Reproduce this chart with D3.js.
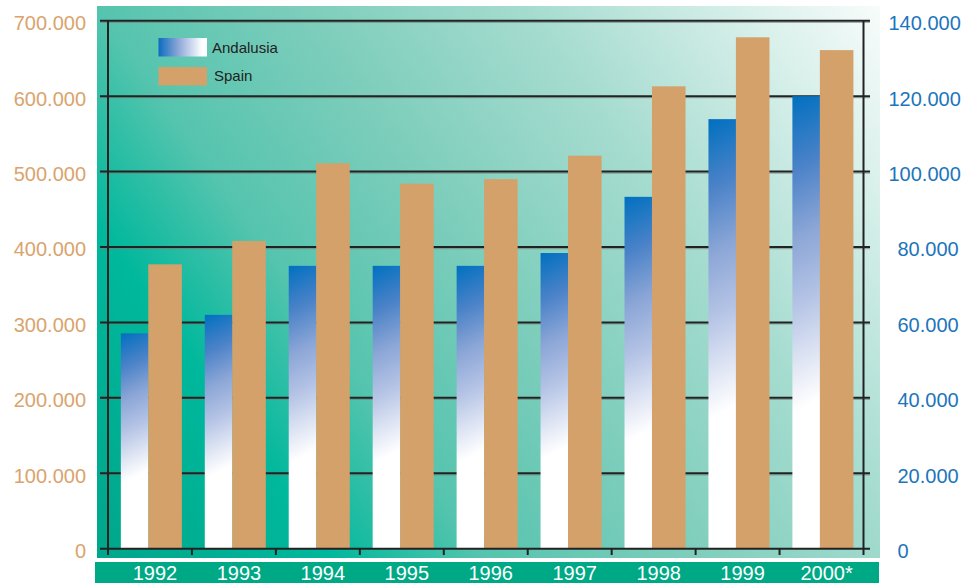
<!DOCTYPE html>
<html>
<head>
<meta charset="utf-8">
<script src="https://cdn.jsdelivr.net/npm/d3@7"></script>
<style>
  html, body { margin: 0; padding: 0; background: #fff; }
  text { font-family: "Liberation Sans", Arial, sans-serif; }
</style>
</head>
<body>
<svg id="chart" width="967" height="583"></svg>
<script>
// data
const years = ["1992", "1993", "1994", "1995", "1996", "1997", "1998", "1999", "2000*"];
const spain = [377000, 408000, 511000, 484000, 490000, 521000, 613000, 678000, 661000];
const andalusia = [57100, 62000, 75000, 75000, 75000, 78400, 93300, 113900, 120000];
const leftTicks = [0, 100000, 200000, 300000, 400000, 500000, 600000, 700000];
const rightTicks = [0, 20000, 40000, 60000, 80000, 100000, 120000, 140000];
const seriesNames = ["Andalusia", "Spain"];

const svg = d3.select("#chart");
const defs = svg.append("defs");

const fmt = d3.formatLocale({ decimal: ",", thousands: ".", grouping: [3], currency: ["", ""] }).format(",d");

const x = d3.scaleBand().domain(years).range([108, 863.5]).padding(0);
const yL = d3.scaleLinear().domain([0, 700000]).range([548.7, 20.7]);
const yR = d3.scaleLinear().domain([0, 140000]).range([548.7, 20.7]);

// background
const bg = defs.append("linearGradient")
    .attr("id", "bg")
    .attr("gradientUnits", "userSpaceOnUse")
    .attr("x1", 97).attr("y1", 558).attr("x2", 880).attr("y2", 6);
[[0, "#00a68a"], [0.2, "#00b89c"], [0.33, "#55c4ae"], [0.5, "#7ccdbb"], [0.7, "#a6dcd0"], [1, "#f8fcfb"]]
    .forEach(s => bg.append("stop").attr("offset", s[0]).attr("stop-color", s[1]));

svg.append("rect")
    .attr("x", 97).attr("y", 6).attr("width", 783).attr("height", 552)
    .attr("fill", "url(#bg)");

svg.append("rect")
    .attr("x", 95).attr("y", 562).attr("width", 784).attr("height", 21)
    .attr("fill", "#00a985");

// gridlines behind bars
const grid = svg.append("g");
grid.selectAll("line.sh")
    .data(leftTicks.filter(d => d > 0))
    .join("line")
    .attr("x1", 100).attr("x2", 870)
    .attr("y1", d => yL(d) + 1.6).attr("y2", d => yL(d) + 1.6)
    .attr("stroke", "#6f7f7a").attr("stroke-opacity", 0.6).attr("stroke-width", 1.2);
grid.selectAll("line.gl")
    .data(leftTicks.filter(d => d > 0))
    .join("line")
    .attr("x1", 100).attr("x2", 870)
    .attr("y1", d => yL(d)).attr("y2", d => yL(d))
    .attr("stroke", "#222").attr("stroke-width", 2);

// Andalusia gradients, one per bar
const bw = x.bandwidth();
const aX = d => x(d) + bw * 0.153, aW = bw * 0.33;
const sX = d => x(d) + bw * 0.48, sW = bw * 0.40;
const aStops = [[0, "#0070c0"], [0.13, "#4a82c8"], [0.25, "#8aa5d6"], [0.37, "#b4c3e5"], [0.48, "#e0e6f4"], [0.56, "#ffffff"], [1, "#ffffff"]];

years.forEach((yr, i) => {
    const top = yR(andalusia[i]), h = yR(0) - top;
    const g = defs.append("linearGradient")
        .attr("id", "and" + i)
        .attr("gradientUnits", "userSpaceOnUse")
        .attr("x1", aX(yr)).attr("y1", top)
        .attr("x2", aX(yr) + 0.5 * h).attr("y2", top + h);
    aStops.forEach(s => g.append("stop").attr("offset", s[0]).attr("stop-color", s[1]));
});

svg.append("g").selectAll("rect")
    .data(years)
    .join("rect")
    .attr("x", d => aX(d))
    .attr("y", (d, i) => yR(andalusia[i]))
    .attr("width", aW)
    .attr("height", (d, i) => yR(0) - yR(andalusia[i]))
    .attr("fill", (d, i) => `url(#and${i})`);

svg.append("g").selectAll("rect")
    .data(years)
    .join("rect")
    .attr("x", d => sX(d))
    .attr("y", (d, i) => yL(spain[i]))
    .attr("width", sW)
    .attr("height", (d, i) => yL(0) - yL(spain[i]))
    .attr("fill", "#d4a16a");

// axis frame
const frame = svg.append("g").attr("stroke", "#222").attr("stroke-width", 2);
frame.append("line").attr("x1", 108).attr("x2", 108).attr("y1", yL(700000)).attr("y2", 555);
frame.append("line").attr("x1", 863.5).attr("x2", 863.5).attr("y1", yL(700000)).attr("y2", 555);
frame.append("line").attr("x1", 100).attr("x2", 870).attr("y1", yL(0)).attr("y2", yL(0));
frame.selectAll("line.tk")
    .data(years.slice(1))
    .join("line")
    .attr("x1", d => x(d)).attr("x2", d => x(d))
    .attr("y1", yL(0)).attr("y2", 555);

// left axis labels
const left = svg.append("g")
    .attr("transform", "translate(108,0)")
    .call(d3.axisLeft(yL).tickValues(leftTicks).tickFormat(fmt).tickSize(0).tickPadding(22));
left.select(".domain").remove();
left.selectAll("text")
    .attr("font-size", 20)
    .attr("font-family", "'Liberation Sans', Arial, sans-serif")
    .attr("fill", "#d9a46e")
    .attr("dy", "0.45em");

// right axis labels
const right = svg.append("g")
    .attr("transform", "translate(863.5,0)")
    .call(d3.axisRight(yR).tickValues(rightTicks).tickFormat(fmt).tickSize(0).tickPadding(34));
right.select(".domain").remove();
right.selectAll("text")
    .attr("font-size", 20)
    .attr("font-family", "'Liberation Sans', Arial, sans-serif")
    .attr("fill", "#1c75bc")
    .attr("dy", "0.45em")
    .attr("x", d => d >= 100000 ? 25 : 34);

// year labels in the band
const bottom = svg.append("g")
    .attr("transform", "translate(5,562)")
    .call(d3.axisBottom(x).tickSize(0).tickPadding(0));
bottom.select(".domain").remove();
bottom.selectAll("text")
    .attr("font-size", 20)
    .attr("font-family", "'Liberation Sans', Arial, sans-serif")
    .attr("fill", "#fff")
    .attr("dy", null)
    .attr("y", 18);

// legend
const lg = defs.append("linearGradient").attr("id", "lgA");
[[0, "#0a6cc0"], [0.4, "#8aa5d6"], [0.9, "#ffffff"]]
    .forEach(s => lg.append("stop").attr("offset", s[0]).attr("stop-color", s[1]));
const legend = svg.append("g");
legend.selectAll("rect")
    .data(seriesNames)
    .join("rect")
    .attr("x", 158.5)
    .attr("y", (d, i) => 38 + i * 29)
    .attr("width", 48.5)
    .attr("height", 18.5)
    .attr("fill", (d, i) => i === 0 ? "url(#lgA)" : "#d4a16a");
legend.selectAll("text")
    .data(seriesNames)
    .join("text")
    .attr("x", (d, i) => 212 + i * 2)
    .attr("y", (d, i) => 53 + i * 28)
    .attr("font-size", 15)
    .attr("fill", "#222")
    .text(d => d);
</script>
</body>
</html>
